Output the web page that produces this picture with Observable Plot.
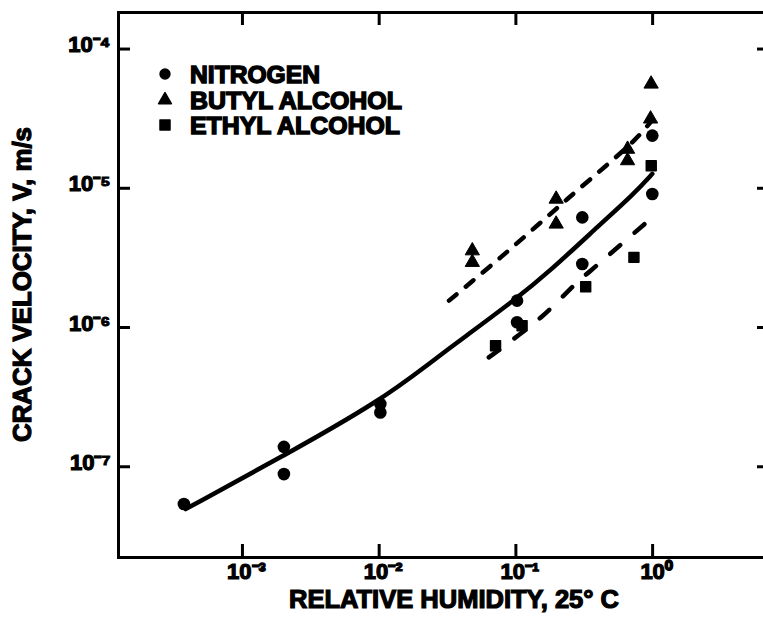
<!DOCTYPE html>
<html><head><meta charset="utf-8">
<script src="https://cdn.jsdelivr.net/npm/d3@7"></script>
<script src="https://cdn.jsdelivr.net/npm/@observablehq/plot@0.6"></script>
<style>
html,body{margin:0;padding:0;background:#fff;overflow:hidden;width:763px;height:621px}
#wrap{position:relative;width:763px;height:621px;overflow:hidden}
#chart svg{max-width:none!important;display:block}
#legend{position:absolute;left:0;top:0}
#chart svg text{stroke:#000;stroke-width:1.2px;paint-order:stroke}
#legend text{stroke:#000;stroke-width:1.4px;paint-order:stroke}
</style></head><body><div id="wrap"><div id="chart"></div><svg id="legend" width="430" height="150"></svg></div>
<script>
// ---- data ----
const seriesNames = ["NITROGEN", "BUTYL ALCOHOL", "ETHYL ALCOHOL"];
const seriesSymbols = ["circle", "triangle", "square"];

const nitrogenX = [3.73e-4, 2.01e-3, 2.01e-3, 1.02e-2, 1.02e-2, 0.102, 0.102, 0.306, 0.306, 0.995, 0.995];
const nitrogenY = [5.40e-8, 1.39e-7, 8.86e-8, 2.82e-7, 2.45e-7, 1.56e-6, 1.09e-6, 6.18e-6, 2.86e-6, 2.39e-5, 9.10e-6];

const butylX = [0.048, 0.048, 0.197, 0.197, 0.656, 0.656, 0.975, 0.966];
const butylY = [3.56e-6, 2.94e-6, 8.37e-6, 5.54e-6, 1.91e-5, 1.58e-5, 5.61e-5, 3.15e-5];

const ethylX = [0.071, 0.111, 0.324, 0.730, 0.977];
const ethylY = [7.40e-7, 1.03e-6, 1.96e-6, 3.19e-6, 1.45e-5];

// fitted curves
const nitrogenFitX = [3.84e-4, 2.01e-3, 1.02e-2, 2.38e-2, 4.17e-2, 9.66e-2, 0.179, 0.417, 0.729, 0.995];
const nitrogenFitY = [4.97e-8, 1.20e-7, 2.98e-7, 5.61e-7, 8.49e-7, 1.56e-6, 2.56e-6, 5.55e-6, 9.10e-6, 1.27e-5];

const butylFitX = [0.0324, 0.0773, 0.238, 0.730, 0.985];
const butylFitY = [1.56e-6, 3.19e-6, 8.37e-6, 2.20e-5, 3.05e-5];

const ethylFitX = [0.0634, 0.152, 0.289, 0.352, 0.995];
const ethylFitY = [6.10e-7, 1.18e-6, 2.17e-6, 2.56e-6, 6.18e-6];

const xTicks = [1e-3, 1e-2, 1e-1, 1];
const xTickLabels = ["10⁻³", "10⁻²", "10⁻¹", "10⁰"];
const yTicks = [1e-7, 1e-6, 1e-5, 1e-4];
const yTickLabels = ["10⁻⁷", "10⁻⁶", "10⁻⁵", "10⁻⁴"];
const xLabel = "RELATIVE HUMIDITY, 25° C";
const yLabel = "CRACK VELOCITY, V, m/s";

// ---- tables ----
const pts = (xs, ys, s) => xs.map((x, i) => ({x, y: ys[i], s}));
const points = [
  ...pts(nitrogenX, nitrogenY, seriesNames[0]),
  ...pts(butylX, butylY, seriesNames[1]),
  ...pts(ethylX, ethylY, seriesNames[2])
];
const fitN = pts(nitrogenFitX, nitrogenFitY, seriesNames[0]);
const fitB = pts(butylFitX, butylFitY, seriesNames[1]);
const fitE = pts(ethylFitX, ethylFitY, seriesNames[2]);

const W = 775, H = 621, mL = 118, mR = 6, mT = 12, mB = 64;
const fw = W - mL - mR, fh = H - mT - mB, tick = 13;

const font = "'Liberation Sans', Arial, Helvetica, sans-serif";
const plot = Plot.plot({
  width: W, height: H,
  marginLeft: mL, marginRight: mR, marginTop: mT, marginBottom: mB,
  style: {fontFamily: font, fontWeight: "bold", fontSize: "22px", color: "#000", background: "#fff", overflow: "visible", maxWidth: "none"},
  x: {type: "log", domain: [1.24e-4, 7.16], axis: null},
  y: {type: "log", domain: [2.23e-8, 1.83e-4], axis: null},
  symbol: {domain: seriesNames, range: seriesSymbols},
  marks: [
    Plot.line(fitN, {x: "x", y: "y", stroke: "#000", strokeWidth: 4.5, curve: "basis", strokeLinecap: "round"}),
    Plot.line(fitB, {x: "x", y: "y", stroke: "#000", strokeWidth: 4.5, curve: "catmull-rom", strokeDasharray: "10,12", strokeLinecap: "round"}),
    Plot.line(fitE, {x: "x", y: "y", stroke: "#000", strokeWidth: 4.5, curve: "catmull-rom", strokeDasharray: "13,19", strokeLinecap: "round"}),
    Plot.dot(points.filter(d => d.s === seriesNames[0]), {x: "x", y: "y", symbol: "s", fill: "#000", r: 6.3}),
    Plot.dot(points.filter(d => d.s === seriesNames[1]), {x: "x", y: "y", symbol: "s", fill: "#000", r: 5.3, stroke: "#000", strokeWidth: 1, strokeLinejoin: "round"}),
    Plot.dot(points.filter(d => d.s === seriesNames[2]), {x: "x", y: "y", symbol: "s", fill: "#000", r: 5.6, strokeLinejoin: "round", stroke: "#000", strokeWidth: 1.5}),
    Plot.frame({stroke: "#000", strokeWidth: 3}),
    // inward tick marks on all four sides
    Plot.tickX(xTicks, {x: d => d, stroke: "#000", strokeWidth: 3, insetTop: fh - tick}),
    Plot.tickX(xTicks, {x: d => d, stroke: "#000", strokeWidth: 3, insetBottom: fh - tick}),
    Plot.tickY(yTicks, {y: d => d, stroke: "#000", strokeWidth: 3, insetRight: fw - tick + 1}),
    Plot.tickY(yTicks, {y: d => d, stroke: "#000", strokeWidth: 3, insetLeft: fw - tick + 1}),
    // tick labels
    Plot.axisX({anchor: "bottom", ticks: xTicks, tickSize: 0, tickPadding: 6, dx: 4,
      tickFormat: d => xTickLabels[xTicks.indexOf(d)], label: null, fontSize: 22}),
    Plot.axisY({anchor: "left", ticks: yTicks, tickSize: 0, tickPadding: 8, dy: -4,
      tickFormat: d => yTickLabels[yTicks.indexOf(d)], label: null, fontSize: 22}),
    // axis titles
    Plot.text([xLabel], {frameAnchor: "bottom", dy: 50, dx: 10, fontSize: 25, fontWeight: "bold"}),
    Plot.text([yLabel], {frameAnchor: "left", dx: -96, dy: 157, rotate: -90, textAnchor: "start", fontSize: 25, fontWeight: "bold"})
  ]
});
document.getElementById("chart").appendChild(plot);

// stretch axis titles to the reference lengths
d3.select(plot).selectAll("text").each(function() {
  const t = this.textContent;
  if (t === xLabel) d3.select(this).attr("textLength", 330).attr("lengthAdjust", "spacingAndGlyphs");
  if (t === yLabel) d3.select(this).attr("textLength", 315).attr("lengthAdjust", "spacingAndGlyphs");
});

// legend (inside the frame, top-left)
const legendLengths = [130, 212, 210];
const lg = d3.select("#legend");
const rows = [74, 100, 125];
const symSizes = [Math.PI * 36 * 0.9, Math.PI * 5 * 5 * 0.9, 100];
seriesNames.forEach((name, i) => {
  const sym = {circle: d3.symbolCircle, triangle: d3.symbolTriangle, square: d3.symbolSquare}[seriesSymbols[i]];
  lg.append("path").attr("d", d3.symbol(sym, symSizes[i])()).attr("transform", `translate(165,${rows[i]})`)
    .attr("fill", "#000").attr("stroke", "#000").attr("stroke-linejoin", "round").attr("stroke-width", i === 0 ? 0 : 1.5);
  lg.append("text").attr("x", 190).attr("y", rows[i]).attr("dy", "0.36em")
    .attr("font-family", font).attr("font-weight", "bold").attr("font-size", 24)
    .attr("textLength", legendLengths[i]).attr("lengthAdjust", "spacingAndGlyphs").text(name);
});
</script></body></html>
